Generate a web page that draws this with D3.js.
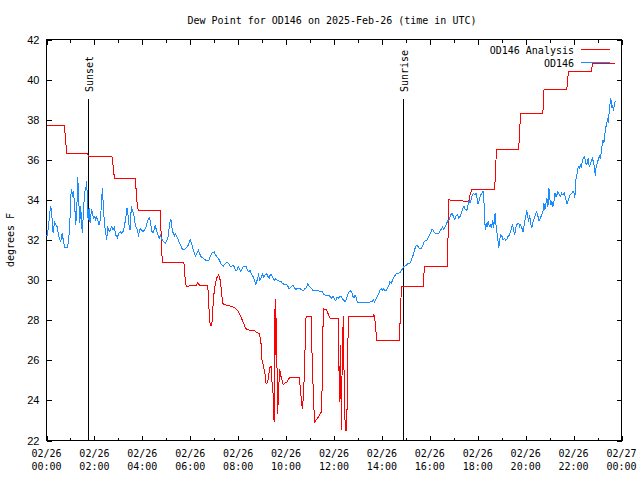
<!DOCTYPE html>
<html><head><meta charset="utf-8">
<script src="https://cdn.jsdelivr.net/npm/d3@7/dist/d3.min.js"></script>
<style>body{margin:0;background:#fff}</style>
</head><body><svg id="c" width="640" height="480"></svg>
<script>
// ---- data (time in minutes after 2025-02-26 00:00 UTC, dew point in °F) ----
const titleText = "Dew Point for OD146 on 2025-Feb-26 (time in UTC)";
const yLabel = "degrees F";
const seriesNames = ["OD146 Analysis", "OD146"];
const yTicks = [22, 24, 26, 28, 30, 32, 34, 36, 38, 40, 42];
const xTickMinutes = [0, 120, 240, 360, 480, 600, 720, 840, 960, 1080, 1200, 1320, 1440];
const xTickDates = ["02/26","02/26","02/26","02/26","02/26","02/26","02/26","02/26","02/26","02/26","02/26","02/26","02/27"];
const xTickTimes = ["00:00","02:00","04:00","06:00","08:00","10:00","12:00","14:00","16:00","18:00","20:00","22:00","00:00"];
const eventNames = ["Sunset", "Sunrise"];
const eventMinutes = [104, 893];

const anaTime = [0,45,47.5,51,102.5,106,164,167.5,170,222.5,226,230,285,287.5,290,344,347.5,350,360,375,379,384,404,406,410,414,417,420.5,426,431,435,437.5,441,443,460,471,478,487,493,499,507.5,518,528,533,537,539,543,547.5,550,554,557,560,562.5,565,567.5,570,572.5,575,576.5,578,580,581.5,584,587.5,592.5,602.5,608,633,637,640.5,644,646.5,650,662.5,665.5,669,671.5,680.5,689,691.5,693,701.5,708,711.5,731,733.5,736,738.5,741,743.5,746,748.5,752,754.5,757,760,818,820,822.5,827,883,885,887.5,889,943,945,947.5,1004,1006,1007.5,1027.5,1057.5,1060,1065,1122.5,1125,1127.5,1182.5,1185,1187.5,1243,1245,1246,1303,1305,1307.5,1364,1367.5,1424];
const anaDew = [37.7,37.7,37.0,36.3,36.3,36.15,36.15,35.6,35.08,35.08,34.0,33.45,33.45,32.0,30.9,30.9,30.0,29.67,29.72,29.72,29.88,29.72,29.72,28.8,27.75,27.75,28.7,29.58,30.1,30.25,30.0,29.58,28.87,28.8,28.7,28.63,28.5,28.17,27.87,27.58,27.5,27.5,27.38,27.33,26.92,26.08,25.75,25.28,24.83,24.9,25.33,25.67,25.67,24.83,24.33,22.92,29.08,26.0,28.1,23.33,23.83,24.6,25.58,25.17,24.8,24.92,25.12,25.12,24.33,23.58,24.33,25.92,28.2,28.2,25.92,23.9,22.92,23.17,23.45,26.0,28.57,28.53,28.17,28.08,28.08,23.9,26.75,22.5,26.8,28.2,23.9,22.5,22.5,26.8,28.2,28.2,28.2,28.3,28.0,27.0,27.0,27.67,28.97,29.67,29.67,30.3,30.7,30.7,32.5,34.0,33.97,33.92,34.2,34.5,34.5,35.8,36.5,36.5,37.5,38.33,38.33,39.0,39.5,39.5,40.0,40.4,40.4,40.8,40.8];

const obsTime = [0,2.5,6.7,10,12.5,15,16.7,20,23.3,26.7,29.2,33.3,35.8,39.2,41.7,45.8,51.7,55,58.3,60.8,62.5,65,66.7,70,73.3,75.8,78.3,80.8,83.3,85.8,88.3,90,92.5,95,97.5,99.2,100.8,102.5,104.2,106.7,109.2,112.5,115,117.5,120.8,123.3,125.8,129.2,131.7,135,138.3,140,142.5,145,148.3,150.8,153.3,156.7,160,163.3,166.7,170,173.3,177.5,180.8,185,188.3,191.7,195,198.3,201.7,204.2,206.7,209.2,212.5,215,218.3,221.7,225,228.3,230,232.5,235,238.3,241.7,245,248.3,251.7,255,258.3,260.8,263.3,266.7,270,272.5,275,278.3,280.8,283.3,285,288.3,291.7,295,298.3,301.7,305,307.5,310,311.7,313.3,315,318.3,320.8,323.3,326.7,330,333.3,336.7,340,343.3,346.7,350,353.3,356.7,360,363.3,366.7,370,373.3,376.7,380,383.3,386.7,390,393.3,396.7,400,403.3,406.7,410,413.3,416.7,420,423.3,426.7,430,433.3,436.7,440,443.3,446.7,450,453.3,456.7,460,463.3,466.7,470,473.3,476.7,480,483.3,486.7,490,493.3,496.7,500,503.3,506.7,510,514.2,517.5,520.8,524.2,527.5,530.8,534.2,537.5,540.8,544.2,547.5,550.8,554.2,557.5,560.8,564.2,567.5,570.8,574.2,577.5,580.8,584.2,587.5,590.8,594.2,597.5,600.8,604.2,607.5,610.8,614.2,617.5,620.8,624.2,627.5,630.8,634.2,637.5,640.8,644.2,647.5,650.8,654.2,657.5,660.8,664.2,667.5,670.8,674.2,677.5,680.8,684.2,687.5,690.8,694.2,697.5,700.8,704.2,707.5,710.8,714.2,717.5,720.8,724.2,727.5,730.8,734.2,737.5,740.8,744.2,747.5,750.8,754.2,757.5,760.8,764.2,767.5,770.8,772.5,775,777.5,780,797.5,815,818.3,821.7,825,828.3,831.7,835,838.3,840.8,843.3,846.7,850,853.3,856.7,860,863.3,866.7,870,873.3,876.7,880.8,885,888.3,891.7,895,898.3,901.7,905,908.3,911.7,915,918.3,921.7,925,928.3,931.7,935,938.3,941.7,945,948.3,951.7,955,958.3,961.7,965,968.3,971.7,975,978.3,981.7,985,988.3,991.7,995,998.3,1001.7,1005,1008.3,1012.5,1015.8,1019.2,1022.5,1025.8,1029.2,1032.5,1035.8,1039.2,1042.5,1045.8,1049.2,1052.5,1055.8,1059.2,1060.8,1063.3,1065.8,1069.2,1072.5,1075.8,1078.3,1080.8,1084.2,1087.5,1090.8,1093.3,1095.8,1097.5,1099.2,1100.8,1103.3,1105.8,1109.2,1111.7,1114.2,1117.5,1120,1122.5,1124.2,1125.8,1128.3,1130.8,1132.5,1135,1137.5,1140.8,1143.3,1146.7,1150,1152.5,1155.8,1159.2,1162.5,1165,1167.5,1170,1172.5,1175,1177.5,1180,1182.5,1185,1187.5,1190.8,1193.3,1195.8,1198.3,1200.8,1202.5,1205,1207.5,1210,1212.5,1215,1217.5,1220,1223.3,1226.7,1230,1233.3,1236.7,1240,1243.3,1245.8,1248.3,1250.8,1253.3,1255.8,1258.3,1260.8,1263.3,1265.8,1268.3,1270.8,1273.3,1275.8,1278.3,1280.8,1284.2,1286.7,1290,1293.3,1296.7,1300,1303.3,1305.8,1308.3,1310.8,1314.2,1318.3,1321.7,1323.3,1325,1327.5,1330,1331.7,1334.2,1336.7,1339.2,1341.7,1344.2,1346.7,1349.2,1351.7,1354.2,1356.7,1359.2,1361.7,1365,1367.5,1370,1372.5,1374.2,1376.7,1379.2,1381.7,1384.2,1386.7,1389.2,1391.7,1393.3,1395.8,1397.5,1400,1402.5,1405,1406.7,1408.3,1410,1411.7,1413.3,1415.8,1417.5,1420,1422.5,1424.2];
const obsDew = [32.2,32.25,33.0,33.67,33.5,32.75,32.33,32.92,32.75,32.67,32.33,32.0,31.92,32.33,32.03,31.62,31.62,31.92,32.75,34.17,34.55,34.17,34.42,33.92,32.75,33.5,35.13,34.0,32.83,33.67,32.67,32.33,33.5,34.17,34.63,34.5,34.95,33.83,33.0,33.58,32.83,33.5,33.42,33.08,33.17,33.0,33.17,32.92,32.75,33.0,34.03,34.58,33.67,32.83,32.33,32.0,32.67,32.42,32.5,32.67,32.5,32.63,32.25,32.12,32.33,32.42,32.33,32.42,32.67,33.08,33.58,33.25,32.75,32.5,33.67,33.5,33.33,32.83,32.58,32.5,32.17,32.42,32.58,32.5,32.42,32.5,32.58,32.83,33.03,33.13,32.83,32.45,32.37,32.53,32.75,32.5,32.33,32.13,32.08,32.25,32.05,31.95,31.87,31.83,32.0,32.17,32.67,33.0,33.03,32.83,32.42,32.33,32.2,32.3,32.17,32.03,31.83,31.7,31.55,31.53,31.55,31.62,31.67,31.83,32.03,31.83,31.58,31.37,31.2,31.33,31.5,31.33,31.17,31.13,31.08,31.03,30.97,30.97,31.0,31.17,31.33,31.37,31.42,31.25,31.17,31.08,31.0,30.8,30.75,30.7,30.8,30.87,30.87,30.8,30.7,30.67,30.75,30.67,30.47,30.5,30.67,30.58,30.42,30.58,30.67,30.67,30.67,30.47,30.42,30.5,30.25,30.17,30.0,29.8,30.0,30.25,30.0,30.13,30.3,30.13,30.25,30.33,30.2,30.08,30.3,30.25,30.08,30.0,30.08,30.0,29.97,29.92,29.92,29.83,29.8,29.8,29.8,29.7,29.58,29.63,29.7,29.75,29.63,29.53,29.58,29.58,29.58,29.53,29.5,29.47,29.58,29.63,29.8,29.7,29.63,29.58,29.47,29.5,29.47,29.47,29.47,29.42,29.42,29.42,29.28,29.25,29.25,29.25,29.25,29.17,29.08,29.2,29.08,28.97,29.17,29.08,29.17,29.2,29.08,29.0,28.92,29.03,29.25,29.42,29.47,29.42,29.17,29.13,29.25,29.17,28.97,28.88,28.88,28.92,29.03,28.92,29.03,29.17,29.3,29.5,29.58,29.47,29.58,29.5,29.47,29.58,29.7,29.92,29.83,30.0,30.13,30.25,30.33,30.33,30.37,30.47,30.58,30.67,30.72,30.75,30.83,30.83,30.87,31.08,31.25,31.5,31.7,31.75,31.62,31.58,31.58,31.67,31.87,31.97,31.97,32.08,32.2,32.33,32.5,32.5,32.37,32.3,32.3,32.3,32.42,32.53,32.63,32.53,32.67,32.8,32.97,33.0,33.25,33.33,33.17,33.03,33.2,33.25,33.08,33.17,33.37,33.58,33.67,33.5,33.47,33.75,34.0,33.83,34.03,34.2,34.33,34.25,34.33,34.08,33.8,34.03,34.25,34.33,34.42,33.83,32.92,32.5,32.83,32.67,32.92,32.67,32.75,32.58,33.0,32.58,33.25,33.33,32.75,32.33,31.92,31.58,32.0,32.25,32.17,32.0,32.08,32.0,32.03,32.17,32.25,32.42,32.67,32.75,32.5,32.25,32.58,32.75,32.83,32.83,32.67,32.75,32.58,32.42,32.67,33.0,33.25,33.5,33.17,32.92,33.25,32.83,32.58,32.83,33.0,33.17,33.42,33.25,32.97,33.08,33.25,33.42,33.83,33.5,33.83,34.08,33.67,34.58,34.0,33.75,33.92,33.67,33.92,34.33,34.17,34.25,34.42,34.25,34.17,34.33,34.25,34.33,34.08,33.8,33.92,34.08,34.25,34.3,34.42,34.33,34.08,34.92,35.17,35.42,35.67,35.58,35.75,35.58,35.92,36.08,36.17,36.0,35.75,35.83,36.08,35.67,35.75,36.0,36.08,35.83,35.67,35.2,35.67,35.83,36.0,36.2,36.08,36.33,36.75,37.0,36.83,37.08,37.58,37.75,38.0,37.92,38.17,38.58,38.83,39.08,38.58,38.75,38.42,38.83,38.92];

// ---- drawing ----
const svg = d3.select("#c");
const mono = "'DejaVu Sans Mono', 'Liberation Mono', monospace";
const x = d3.scaleLinear().domain([0, 1440]).range([46.5, 621.5]);
const y = d3.scaleLinear().domain([22, 42]).range([440.5, 39.5]);
const red = "#ff0000", blue = "#1a8cff";

svg.append("rect").attr("width", 640).attr("height", 480).attr("fill", "#fff");

// title
svg.append("text").attr("x", 332).attr("y", 24).attr("text-anchor", "middle")
  .attr("font-family", mono).attr("font-size", 10).text(titleText);

// y label
svg.append("text").attr("transform", "translate(14,240) rotate(-90)").attr("text-anchor", "middle")
  .attr("font-family", mono).attr("font-size", 10).text(yLabel);

const g = svg.append("g").attr("shape-rendering", "crispEdges");

// axes via d3
const yAxisL = d3.axisLeft(y).tickValues(yTicks).tickSize(-5).tickPadding(7).tickFormat(d3.format("d"));
const gl = g.append("g").attr("transform", `translate(${x.range()[0]},0)`).call(yAxisL);
gl.select(".domain").remove();
gl.selectAll("text").attr("font-family", "'Liberation Sans', Arial, sans-serif").attr("font-size", 11).attr("fill", "#000");
const gr = g.append("g").attr("transform", `translate(${x.range()[1]},0)`)
  .call(d3.axisRight(y).tickValues(yTicks).tickSize(-5).tickFormat(""));
gr.select(".domain").remove();

const minorMinutes = d3.range(60, 1440, 120);
const gb = g.append("g").attr("transform", `translate(0,${y.range()[0]})`)
  .call(d3.axisBottom(x).tickValues(xTickMinutes).tickSize(-5).tickFormat(""));
gb.select(".domain").remove();
const gbm = g.append("g").attr("transform", `translate(0,${y.range()[0]})`)
  .call(d3.axisBottom(x).tickValues(minorMinutes).tickSize(-3).tickFormat(""));
gbm.select(".domain").remove();
const gt = g.append("g").attr("transform", `translate(0,${y.range()[1]})`)
  .call(d3.axisTop(x).tickValues(xTickMinutes).tickSize(-5).tickFormat(""));
gt.select(".domain").remove();
const gtm = g.append("g").attr("transform", `translate(0,${y.range()[1]})`)
  .call(d3.axisTop(x).tickValues(minorMinutes).tickSize(-3).tickFormat(""));
gtm.select(".domain").remove();
g.selectAll(".tick line").attr("stroke", "#000");

// x tick labels (two lines)
const xl = svg.append("g").attr("font-family", mono).attr("font-size", 10).attr("text-anchor", "middle");
xTickMinutes.forEach((m, i) => {
  const t = xl.append("text").attr("x", x(m));
  t.append("tspan").attr("x", x(m)).attr("y", 457).text(xTickDates[i]);
  t.append("tspan").attr("x", x(m)).attr("y", 470).text(xTickTimes[i]);
});

// border
g.append("rect").attr("x", x.range()[0]).attr("y", y.range()[1])
  .attr("width", x.range()[1] - x.range()[0]).attr("height", y.range()[0] - y.range()[1])
  .attr("fill", "none").attr("stroke", "#000");

// data lines
const lineAna = d3.line().x((d, i) => x(anaTime[i])).y((d) => y(d));
const lineObs = d3.line().x((d, i) => x(obsTime[i])).y((d) => y(d));
svg.append("path").attr("d", lineAna(anaDew)).attr("fill", "none").attr("stroke", red)
  .attr("stroke-width", 1).attr("shape-rendering", "crispEdges");
svg.append("path").attr("d", lineObs(obsDew)).attr("fill", "none").attr("stroke", blue)
  .attr("stroke-width", 1).attr("shape-rendering", "crispEdges");

// sunset / sunrise markers
eventMinutes.forEach((m, i) => {
  const xx = Math.round(x(m) - 0.5) + 0.5;
  g.append("line").attr("x1", xx).attr("x2", xx).attr("y1", 99).attr("y2", y.range()[0]).attr("stroke", "#000");
  svg.append("text").attr("transform", `translate(${xx + 4},92) rotate(-90)`)
    .attr("font-family", mono).attr("font-size", 10).text(eventNames[i]);
});

// legend
const lg = svg.append("g").attr("font-family", mono).attr("font-size", 10);
[red, blue].forEach((c, i) => {
  const yy = 49.5 + i * 13;
  lg.append("text").attr("x", 574).attr("y", yy + 4).attr("text-anchor", "end").text(seriesNames[i]);
  lg.append("line").attr("x1", 581).attr("x2", 610).attr("y1", yy).attr("y2", yy)
    .attr("stroke", c).attr("shape-rendering", "crispEdges");
});
</script></body></html>
